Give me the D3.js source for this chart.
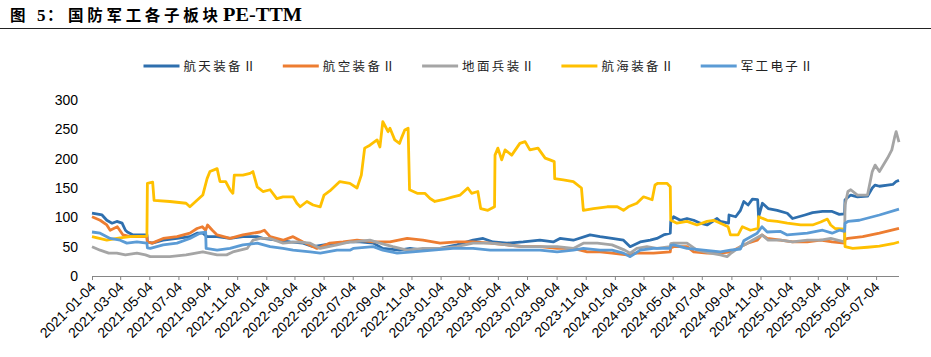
<!DOCTYPE html>
<html><head><meta charset="utf-8">
<script src="https://cdn.jsdelivr.net/npm/d3@7"></script>
<style>body{margin:0;background:#fff;}</style>
</head><body>
<svg id="chart" width="931" height="357"></svg>
<script>
// ---------- DATA ----------
const titleText = "图 5：国防军工各子板块 PE-TTM";
const seriesNames = ["航天装备Ⅱ", "航空装备Ⅱ", "地面兵装Ⅱ", "航海装备Ⅱ", "军工电子Ⅱ"];

const hangtian = [
["2021-01-04",107],["2021-01-25",104],["2021-02-04",95],["2021-02-15",90],["2021-02-25",93],["2021-03-08",90],["2021-03-15",78],["2021-03-19",75],["2021-03-31",70],["2021-04-29",70],["2021-04-30",58],["2021-05-10",56],["2021-06-02",61],["2021-07-01",64],["2021-07-28",67],["2021-08-12",73],["2021-08-24",73],["2021-09-02",67],["2021-09-23",67],["2021-10-20",64],["2021-11-16",67],["2021-12-16",67],["2021-12-28",64],["2022-01-26",61],["2022-02-23",58],["2022-03-22",56],["2022-04-12",50],["2022-05-05",53],["2022-06-01",56],["2022-06-28",58],["2022-07-19",58],["2022-08-16",56],["2022-09-05",47],["2022-10-10",44],["2022-11-01",47],["2022-11-28",44],["2023-01-03",47],["2023-02-07",53],["2023-03-13",61],["2023-04-03",64],["2023-04-24",58],["2023-05-23",56],["2023-06-26",58],["2023-07-31",61],["2023-08-28",58],["2023-09-11",64],["2023-10-09",61],["2023-11-13",70],["2023-12-04",67],["2023-12-29",64],["2024-01-22",61],["2024-02-05",50],["2024-02-26",58],["2024-03-18",61],["2024-04-01",64],["2024-04-15",70],["2024-04-29",73],["2024-04-30",93],["2024-05-06",101],["2024-05-20",95],["2024-06-03",98],["2024-06-17",95],["2024-07-01",90],["2024-07-15",87],["2024-08-05",98],["2024-08-12",93],["2024-08-29",90],["2024-08-30",104],["2024-09-13",101],["2024-09-23",112],["2024-09-30",127],["2024-10-09",121],["2024-10-18",131],["2024-10-29",130],["2024-10-31",101],["2024-11-08",124],["2024-11-20",115],["2024-12-09",112],["2024-12-30",107],["2025-01-10",98],["2025-02-05",104],["2025-02-21",108],["2025-03-14",110],["2025-04-03",110],["2025-04-18",105],["2025-04-29",106],["2025-04-30",130],["2025-05-12",138],["2025-05-26",135],["2025-06-16",136],["2025-06-26",150],["2025-07-02",155],["2025-07-11",153],["2025-07-28",155],["2025-08-08",156],["2025-08-15",161],["2025-08-21",163]
];

const hangkong = [
["2021-01-04",101],["2021-01-21",95],["2021-02-04",87],["2021-02-11",78],["2021-02-26",84],["2021-03-10",70],["2021-03-25",67],["2021-04-29",67],["2021-04-30",58],["2021-05-10",56],["2021-06-02",64],["2021-07-01",67],["2021-07-28",73],["2021-08-12",81],["2021-08-23",84],["2021-08-30",78],["2021-09-03",87],["2021-09-13",78],["2021-09-23",70],["2021-10-20",64],["2021-11-16",70],["2021-12-07",73],["2021-12-22",75],["2021-12-31",78],["2022-01-12",67],["2022-02-08",61],["2022-03-01",67],["2022-03-22",58],["2022-04-20",47],["2022-05-17",56],["2022-06-14",58],["2022-07-13",61],["2022-08-16",58],["2022-09-20",58],["2022-10-26",64],["2022-11-28",61],["2023-01-03",56],["2023-02-07",58],["2023-03-13",58],["2023-04-18",56],["2023-05-23",53],["2023-06-26",50],["2023-07-31",50],["2023-09-05",47],["2023-10-09",47],["2023-11-07",41],["2023-12-04",41],["2023-12-29",39],["2024-01-29",36],["2024-02-19",39],["2024-03-25",39],["2024-04-29",41],["2024-04-30",48],["2024-05-06",50],["2024-06-03",50],["2024-06-17",41],["2024-07-15",39],["2024-08-12",39],["2024-09-02",41],["2024-09-23",50],["2024-10-08",56],["2024-10-28",61],["2024-11-07",70],["2024-11-18",64],["2024-12-16",61],["2025-01-10",58],["2025-02-10",58],["2025-03-10",61],["2025-04-03",58],["2025-04-29",56],["2025-04-30",63],["2025-05-06",64],["2025-06-06",67],["2025-07-11",73],["2025-08-21",81]
];

const dimian = [
["2021-01-04",50],["2021-01-21",44],["2021-02-08",39],["2021-02-25",39],["2021-03-15",36],["2021-04-08",39],["2021-04-26",36],["2021-05-06",33],["2021-06-16",33],["2021-07-20",36],["2021-08-24",41],["2021-09-23",36],["2021-10-13",36],["2021-10-26",41],["2021-11-25",47],["2021-12-07",61],["2021-12-22",64],["2022-01-12",64],["2022-02-08",56],["2022-03-09",58],["2022-04-06",56],["2022-04-27",47],["2022-06-01",53],["2022-06-28",58],["2022-07-05",58],["2022-08-09",61],["2022-08-30",56],["2022-09-26",50],["2022-10-26",44],["2022-11-28",47],["2023-01-03",47],["2023-02-07",50],["2023-03-13",56],["2023-04-18",56],["2023-05-23",53],["2023-06-26",50],["2023-07-31",50],["2023-09-05",50],["2023-10-09",47],["2023-10-30",56],["2023-11-28",56],["2023-12-29",53],["2024-01-22",45],["2024-02-05",39],["2024-02-19",47],["2024-03-11",50],["2024-04-01",47],["2024-04-29",50],["2024-04-30",55],["2024-05-06",56],["2024-06-03",56],["2024-06-24",44],["2024-07-22",39],["2024-08-12",36],["2024-08-26",33],["2024-09-02",38],["2024-09-23",50],["2024-10-08",56],["2024-10-18",61],["2024-11-07",70],["2024-11-20",61],["2024-12-16",61],["2025-01-10",58],["2025-02-10",61],["2025-03-10",61],["2025-03-31",64],["2025-04-14",61],["2025-04-29",58],["2025-04-30",121],["2025-05-06",144],["2025-05-12",147],["2025-05-26",138],["2025-06-16",138],["2025-06-26",178],["2025-07-02",189],["2025-07-11",178],["2025-07-28",201],["2025-08-06",215],["2025-08-12",237],["2025-08-15",246],["2025-08-21",228]
];

const hanghai = [
["2021-01-04",67],["2021-02-04",61],["2021-03-04",65],["2021-03-25",67],["2021-04-29",68],["2021-04-30",158],["2021-05-11",160],["2021-05-14",129],["2021-06-16",127],["2021-07-20",124],["2021-07-28",118],["2021-08-24",138],["2021-09-02",166],["2021-09-08",178],["2021-09-23",183],["2021-09-29",161],["2021-10-11",161],["2021-10-20",147],["2021-10-26",141],["2021-10-29",172],["2021-11-16",172],["2021-12-01",175],["2021-12-07",178],["2021-12-16",152],["2021-12-28",144],["2022-01-12",147],["2022-01-26",132],["2022-02-08",135],["2022-03-01",135],["2022-03-09",124],["2022-03-16",118],["2022-03-30",127],["2022-04-12",121],["2022-04-27",118],["2022-05-05",138],["2022-05-17",145],["2022-06-07",161],["2022-06-28",158],["2022-07-13",150],["2022-07-22",172],["2022-07-29",218],["2022-08-09",223],["2022-08-24",232],["2022-08-30",220],["2022-09-05",263],["2022-09-09",257],["2022-09-16",246],["2022-09-20",252],["2022-09-30",232],["2022-10-10",226],["2022-10-14",235],["2022-10-21",249],["2022-10-28",252],["2022-10-31",147],["2022-11-16",141],["2022-12-02",141],["2022-12-13",132],["2022-12-23",127],["2023-01-09",130],["2023-01-30",135],["2023-02-14",138],["2023-03-02",150],["2023-03-10",141],["2023-03-23",144],["2023-03-29",115],["2023-04-13",112],["2023-04-27",118],["2023-04-28",206],["2023-05-04",218],["2023-05-12",198],["2023-05-19",215],["2023-06-02",206],["2023-06-19",226],["2023-06-30",229],["2023-07-10",215],["2023-07-27",218],["2023-08-11",201],["2023-08-21",198],["2023-08-30",195],["2023-08-31",166],["2023-09-18",164],["2023-10-09",161],["2023-10-26",150],["2023-10-30",112],["2023-11-20",115],["2023-12-19",118],["2024-01-09",118],["2024-01-22",112],["2024-02-01",118],["2024-02-19",124],["2024-03-04",135],["2024-03-22",130],["2024-03-28",155],["2024-04-03",158],["2024-04-22",158],["2024-04-29",152],["2024-04-30",95],["2024-05-13",90],["2024-06-03",93],["2024-06-24",87],["2024-07-15",93],["2024-07-29",95],["2024-08-12",90],["2024-08-28",84],["2024-09-02",70],["2024-09-18",70],["2024-09-27",84],["2024-10-14",78],["2024-10-30",81],["2024-10-31",101],["2024-11-18",95],["2024-12-09",93],["2024-12-30",90],["2025-01-27",87],["2025-02-21",87],["2025-03-10",92],["2025-03-24",97],["2025-03-31",87],["2025-04-09",81],["2025-04-29",80],["2025-04-30",50],["2025-05-16",47],["2025-06-16",49],["2025-07-11",51],["2025-08-08",55],["2025-08-21",58]
];

const junGongDianZi = [
["2021-01-04",75],["2021-01-21",73],["2021-02-11",64],["2021-03-04",61],["2021-03-18",56],["2021-04-08",58],["2021-04-29",56],["2021-04-30",48],["2021-05-06",47],["2021-06-02",53],["2021-07-01",56],["2021-07-28",64],["2021-08-18",73],["2021-08-30",75],["2021-08-31",47],["2021-09-23",44],["2021-10-20",47],["2021-11-16",53],["2021-12-16",56],["2022-01-12",50],["2022-02-08",47],["2022-03-01",44],["2022-04-06",41],["2022-04-27",39],["2022-06-01",44],["2022-06-28",44],["2022-07-05",47],["2022-08-16",50],["2022-09-05",44],["2022-10-05",39],["2022-11-07",41],["2022-12-19",44],["2023-01-30",47],["2023-03-13",47],["2023-04-18",44],["2023-06-26",44],["2023-07-31",44],["2023-09-05",41],["2023-10-09",44],["2023-10-30",47],["2023-12-04",44],["2023-12-29",44],["2024-01-22",39],["2024-02-05",33],["2024-02-26",44],["2024-03-25",47],["2024-04-29",47],["2024-04-30",52],["2024-05-06",53],["2024-06-03",47],["2024-07-08",44],["2024-08-12",41],["2024-09-02",44],["2024-09-23",46],["2024-09-30",60],["2024-10-08",64],["2024-10-28",73],["2024-11-07",84],["2024-11-18",75],["2024-12-16",76],["2024-12-30",70],["2025-02-10",73],["2025-03-14",78],["2025-04-03",73],["2025-04-18",78],["2025-04-29",76],["2025-04-30",90],["2025-05-06",93],["2025-05-30",95],["2025-07-11",104],["2025-08-21",114]
];

const xTickLabels = [
"2021-01-04","2021-03-04","2021-05-04","2021-07-04","2021-09-04","2021-11-04",
"2022-01-04","2022-03-04","2022-05-04","2022-07-04","2022-09-04","2022-11-04",
"2023-01-04","2023-03-04","2023-05-04","2023-07-04","2023-09-04","2023-11-04",
"2024-01-04","2024-03-04","2024-05-04","2024-07-04","2024-09-04","2024-11-04",
"2025-01-04","2025-03-04","2025-05-04","2025-07-04"
];
const yTickValues = [0, 50, 100, 150, 200, 250, 300];
const xDomain = ["2021-01-04", "2025-08-21"];

// ---------- STYLE ----------
const colors = ["#2E6FAE", "#ED7D31", "#A5A5A5", "#FFC000", "#5B9BD5"];
const drawOrder = [0, 1, 2, 3, 4];

// ---------- DRAW ----------
const parse = d3.timeParse("%Y-%m-%d");
const svg = d3.select("#chart");
const allSeries = [hangtian, hangkong, dimian, hanghai, junGongDianZi].map(s => s.map(d => ({date: parse(d[0]), value: d[1]})));

const x = d3.scaleTime().domain(xDomain.map(parse)).range([92, 899]);
const y = d3.scaleLinear().domain([0, 300]).range([276, 100]);

// title
const title = svg.append("text").attr("y", 21).attr("fill", "#000").attr("font-weight", "bold");
title.append("tspan").attr("x", 10).attr("font-family", "Noto Sans CJK SC").attr("font-size", 15.5).text("图");
title.append("tspan").attr("x", 37).attr("font-family", "Liberation Serif").attr("font-size", 17).text("5");
title.append("tspan").attr("x", 47).attr("font-family", "Noto Sans CJK SC").attr("font-size", 15.5).text("：");
title.append("tspan").attr("x", 68).attr("font-family", "Noto Sans CJK SC").attr("font-size", 15.5)
  .attr("textLength", 150).attr("lengthAdjust", "spacing").text("国防军工各子板块");
title.append("tspan").attr("x", 223).attr("font-family", "Liberation Serif").attr("font-size", 18)
  .attr("textLength", 79).attr("lengthAdjust", "spacingAndGlyphs").text("PE-TTM");
svg.append("line").attr("x1", 0).attr("x2", 931).attr("y1", 28.5).attr("y2", 28.5)
  .attr("stroke", "#222").attr("stroke-width", 1.2);

// legend
const legend = svg.append("g");
seriesNames.forEach((name, i) => {
  const lx = 143.5 + i * 139.3;
  legend.append("line").attr("x1", lx).attr("x2", lx + 36).attr("y1", 66).attr("y2", 66)
    .attr("stroke", colors[i]).attr("stroke-width", 3);
  legend.append("text").attr("x", lx + 40).attr("y", 66).attr("dy", "0.36em")
    .attr("font-family", "Noto Sans CJK SC").attr("font-size", 12.5).attr("fill", "#222")
    .attr("textLength", 72).attr("lengthAdjust", "spacing").text(name);
});

// y axis labels (no line)
const yAxis = d3.axisLeft(y).tickValues(yTickValues).tickSize(0).tickPadding(0);
const yg = svg.append("g").attr("transform", "translate(78,0)").call(yAxis);
yg.select(".domain").remove();
yg.selectAll("text").attr("font-family", "Liberation Sans, Arial").attr("font-size", 14).attr("fill", "#000");

// x axis
const xTicks = xTickLabels.map(parse);
const xAxis = d3.axisBottom(x).tickValues(xTicks).tickSize(4).tickFormat(d3.timeFormat("%Y-%m-%d"));
const xg = svg.append("g").attr("transform", "translate(0,276)").call(xAxis);
xg.select(".domain").attr("stroke", "#868686").attr("d", `M92,0.5H899`);
xg.selectAll(".tick line").attr("stroke", "#868686");
xg.selectAll("text")
  .attr("font-family", "Liberation Sans, Arial").attr("font-size", 14).attr("fill", "#000")
  .attr("text-anchor", "end").attr("dy", 0).attr("y", 0)
  .attr("transform", "translate(4,12) rotate(-45)");

// lines
const line = d3.line().x(d => x(d.date)).y(d => y(d.value));
const lg = svg.append("g");
drawOrder.forEach(i => {
  lg.append("path").datum(allSeries[i]).attr("d", line)
    .attr("fill", "none").attr("stroke", colors[i]).attr("stroke-width", 2.8)
    .attr("stroke-linejoin", "round");
});
</script>
</body></html>
